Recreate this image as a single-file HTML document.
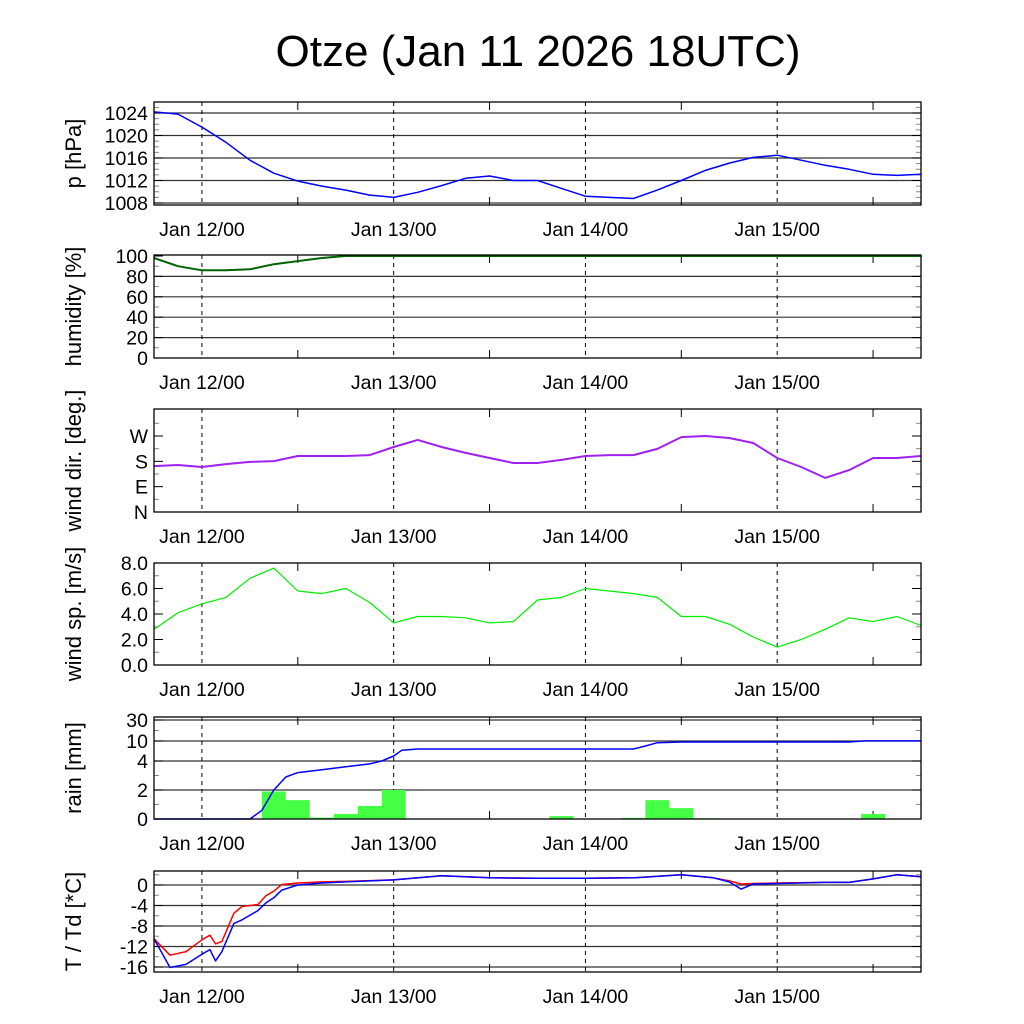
<!DOCTYPE html>
<html><head><meta charset="utf-8"><style>
html,body{margin:0;padding:0;background:#fff;}
svg{display:block;font-family:"Liberation Sans",sans-serif;}
</style></head><body>
<svg id="c" width="1024" height="1024" viewBox="0 0 1024 1024">
<text x="538" y="66" font-size="44" text-anchor="middle">Otze (Jan 11 2026 18UTC)</text>
</svg>
<script>
// ---- data (hours since Jan 11 18UTC) ----
const hours3 = [0,3,6,9,12,15,18,21,24,27,30,33,36,39,42,45,48,51,54,57,60,63,66,69,72,75,78,81,84,87,90,93,96];
const pressure = [1024.2,1023.8,1021.5,1018.8,1015.6,1013.3,1011.9,1011,1010.3,1009.4,1009,1009.9,1011.1,1012.4,1012.8,1012,1012,1010.6,1009.2,1009,1008.8,1010.3,1012,1013.8,1015.1,1016.1,1016.5,1015.6,1014.7,1014,1013.1,1012.9,1013.1];
const humidity = [98,90,86,86,87,92,95,98,100,100,100,100,100,100,100,100,100,100,100,100,100,100,100,100,100,100,100,100,100,100,100,100,100];
const windDir = [163,167,160,170,178,181,199,199,199,202,231,256,231,210,192,174,174,185,199,202,202,224,266,270,263,245,192,160,121,149,192,192,199];
const windSpeed = [2.8,4.1,4.8,5.3,6.8,7.6,5.8,5.6,6.0,4.9,3.3,3.8,3.8,3.7,3.3,3.4,5.1,5.3,6.0,5.8,5.6,5.3,3.8,3.8,3.2,2.2,1.4,2.0,2.8,3.7,3.4,3.8,3.1];
const rainHours = [0,12,13.5,15,16.5,18,21,24,27,28.5,30,31,33,60,61.5,63,66,87,89,96];
const rainCum = [0,0,0.6,2.0,2.9,3.2,3.4,3.6,3.8,4.0,5.5,7.2,7.6,7.6,8.5,9.5,9.7,9.7,10.1,10.1];
const rainBarStart = [13.5,16.5,19.5,22.5,25.5,28.5,37.5,49.5,58.5,61.5,64.5,67.5,88.5];
const rainBarMm = [1.9,1.3,0.1,0.35,0.9,2.0,0.03,0.2,0.08,1.3,0.75,0.05,0.35];
const tHours = [0,2,4,6,7,7.7,8.5,10,11,13,14,15,16,18,21,24,30,36,42,48,54,60,66,70,72,73.5,75,78,84,87,90,93,96];
const tempT = [-10.5,-13.7,-13,-10.7,-9.8,-11.5,-11,-5.5,-4.2,-3.8,-2.1,-1.2,0.1,0.4,0.6,0.7,1,1.8,1.4,1.3,1.3,1.4,2,1.4,0.8,0.2,0.3,0.4,0.5,0.5,1.2,2,1.6];
const tempTd = [-10.5,-16.1,-15.5,-13.5,-12.6,-14.8,-13,-7.5,-6.8,-5,-3.5,-2.5,-1,0,0.4,0.6,1,1.8,1.4,1.3,1.3,1.4,2,1.4,0.6,-0.8,0.2,0.3,0.5,0.5,1.2,2,1.6];
const dayLabels = ["Jan 12/00","Jan 13/00","Jan 14/00","Jan 15/00"];
const dayHours = [6,30,54,78];

const NS="http://www.w3.org/2000/svg";
const svg=document.getElementById('c');
const X0=154,X1=921;
function xs(h){return X0+(X1-X0)*h/96;}
function mk(tag,attrs,parent){const e=document.createElementNS(NS,tag);for(const k in attrs)e.setAttribute(k,attrs[k]);(parent||svg).appendChild(e);return e;}
function lin(v0,y0,v1,y1){return v=>y0+(v-v0)*(y1-y0)/(v1-v0);}
function pw(vals,ys){return v=>{for(let i=0;i<vals.length-1;i++){if(v<=vals[i+1]||i==vals.length-2){return ys[i]+(v-vals[i])*(ys[i+1]-ys[i])/(vals[i+1]-vals[i]);}}};}

const panels=[
 {name:'pressure',top:102,bot:205,title:'p [hPa]',ys:lin(1024,113,1008,203),ticks:[1024,1020,1016,1012,1008],labels:['1024','1020','1016','1012','1008'],grid:true,minor:[1025,1023,1022,1021,1019,1018,1017,1015,1014,1013,1011,1010,1009]},
 {name:'humidity',top:255,bot:358,title:'humidity [%]',ys:lin(0,358,100,256),ticks:[0,20,40,60,80,100],labels:['0','20','40','60','80','100'],grid:true,minor:[10,30,50,70,90]},
 {name:'wind-dir',top:409,bot:512,title:'wind dir. [deg.]',ys:lin(0,512,270,436),ticks:[0,90,180,270],labels:['N','E','S','W'],grid:false,minor:[45,135,225,315]},
 {name:'wind-speed',top:563,bot:665,title:'wind sp. [m/s]',ys:lin(0,665,8,563),ticks:[0,2,4,6,8],labels:['0.0','2.0','4.0','6.0','8.0'],grid:false,minor:[1,3,5,7]},
 {name:'rain',top:717,bot:819,title:'rain [mm]',ys:pw([0,2,4,10,30,40],[819,790,761,741,720,715]),ticks:[0,2,4,10,30],labels:['0','2','4','10','30'],grid:true,minor:[1,3,20]},
 {name:'temperature',top:871,bot:972,title:'T / Td [*C]',ys:lin(0,885,-16,967),ticks:[0,-4,-8,-12,-16],labels:['0','-4','-8','-12','-16'],grid:true,minor:[2,-2,-6,-10,-14]}
];
const P={};
panels.forEach(p=>{
 P[p.name]=p;
 const g=mk('g',{});
 
 
 p.g=g;
 if(p.grid){p.ticks.forEach(t=>{const y=p.ys(t);if(y>p.top+1&&y<p.bot-1){const l=mk('line',{x1:X0,x2:X1,y1:y,y2:y,stroke:'#333','stroke-width':1.2},g);}});}
 dayHours.forEach((h,i)=>{const x=xs(h);const l=mk('line',{x1:x,x2:x,y1:p.top,y2:p.bot,stroke:'#000','stroke-dasharray':'4,4','stroke-width':1},g);
  const t=mk('text',{x:x,y:p.bot+31,'font-size':19.5,'text-anchor':'middle'},g);t.textContent=dayLabels[i];});
 for(let h=18;h<96;h+=24){const x=xs(h);mk('line',{x1:x,x2:x,y1:p.bot,y2:p.bot-8,stroke:'#000'},g);mk('line',{x1:x,x2:x,y1:p.top,y2:p.top+8,stroke:'#000'},g);}
 p.ticks.forEach((t,i)=>{const y=p.ys(t);mk('line',{x1:X0,x2:X0+9,y1:y,y2:y,stroke:'#000'},g);mk('line',{x1:X1,x2:X1-9,y1:y,y2:y,stroke:'#000'},g);
  const tx=mk('text',{x:148,y:y+7,'font-size':19.5,'text-anchor':'end'},g);tx.textContent=p.labels[i];});
 p.minor.forEach(t=>{const y=p.ys(t);if(y>p.top&&y<p.bot){mk('line',{x1:X0,x2:X0+5,y1:y,y2:y,stroke:'#888'},g);mk('line',{x1:X1,x2:X1-5,y1:y,y2:y,stroke:'#888'},g);}});
 const cy=(p.top+p.bot)/2;
 const tt=mk('text',{x:0,y:0,'font-size':22,'text-anchor':'middle',transform:`translate(81,${cy}) rotate(-90)`},g);tt.textContent=p.title;
});
function line(p,hs,vals,color,name,w){const d=hs.map((h,i)=>(i?'L':'M')+xs(h).toFixed(1)+','+p.ys(vals[i]).toFixed(1)).join('');const e=mk('path',{d:d,fill:'none',stroke:color,'stroke-width':w||1.5,'stroke-linejoin':'round'},p.g);}
rainBarStart.forEach((h,i)=>{const p=P.rain;const y=p.ys(rainBarMm[i]);const r=mk('rect',{x:xs(h),y:y,width:xs(h+3)-xs(h),height:p.bot-y,fill:'#44ff44'},p.g);});
line(P.pressure,hours3,pressure,'#0000ff','pressure-line');
line(P.humidity,hours3,humidity,'#006400','humidity-line',2);
line(P['wind-dir'],hours3,windDir,'#a020f0','wind-direction-line',2);
line(P['wind-speed'],hours3,windSpeed,'#00ee00','wind-speed-line',1.2);
line(P.rain,rainHours,rainCum,'#0000ff','rain-cumulative-line');
line(P.temperature,tHours,tempT,'#ff0000','temperature-line');
line(P.temperature,tHours,tempTd,'#0000ff','dewpoint-line');
panels.forEach(p=>{const r=mk('rect',{x:X0,y:p.top,width:X1-X0,height:p.bot-p.top,fill:'none',stroke:'#000','stroke-width':1.3},p.g);});
</script>
</body></html>
